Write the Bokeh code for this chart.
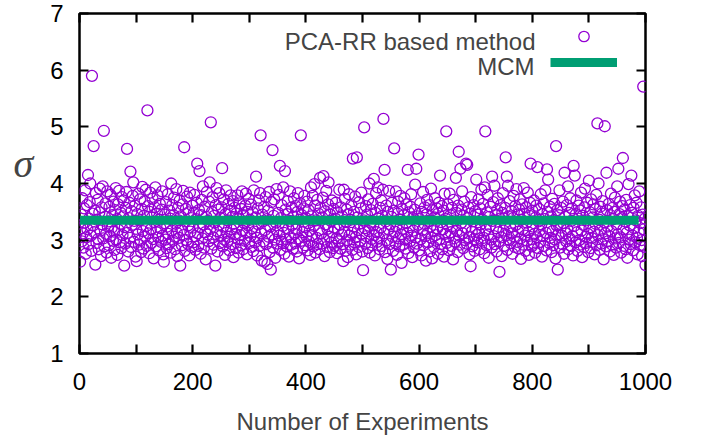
from bokeh.plotting import figure
from bokeh.models import Range1d, LinearAxis, FixedTicker, Label, Legend, LegendItem
from bokeh.embed import file_html
from bokeh.resources import INLINE

# ---------------- data ----------------
experiments = list(range(1, 1001))
sigma = [
    2.62, 3.21, 3.45, 2.98, 3.74, 3.12, 2.87, 3.56, 3.31, 3.88, 2.76, 3.05, 3.62, 3.19, 4.15, 2.93, 3.38, 3.67, 4.00, 3.08, 2.81, 5.90, 3.47, 3.26, 4.66,
    3.14, 3.52, 2.57, 3.83, 2.95, 3.36, 3.71, 3.02, 2.84, 3.49, 3.91, 3.17, 2.72, 3.58, 3.28, 3.95, 3.03, 4.93, 2.89, 3.41, 3.65, 3.11, 2.78, 3.86, 3.24,
    3.33, 2.91, 3.59, 3.07, 3.80, 2.69, 3.22, 3.44, 2.99, 3.68, 3.15, 2.83, 3.53, 3.92, 3.01, 3.37, 2.74, 3.63, 3.18, 3.87, 2.96, 3.29, 3.48, 2.86, 3.76,
    3.09, 3.42, 3.70, 2.55, 3.23, 2.94, 3.57, 3.85, 4.61, 3.13, 2.80, 3.39, 3.66, 3.04, 4.21, 2.88, 3.51, 3.27, 3.78, 4.02, 2.97, 3.34, 3.61, 2.71, 3.20,
    2.63, 3.46, 3.10, 3.82, 2.92, 3.35, 3.72, 3.00, 2.79, 3.55, 3.94, 3.16, 2.85, 3.43, 3.69, 3.06, 3.89, 3.25, 2.90, 5.29, 3.60, 3.12, 2.77, 3.50, 3.84,
    3.19, 2.95, 3.40, 3.73, 3.02, 2.68, 3.32, 3.58, 3.93, 2.89, 3.14, 3.47, 3.79, 3.05, 2.82, 3.36, 3.64, 3.21, 2.97, 3.54, 3.86, 3.08, 2.75, 2.62, 3.30,
    3.45, 3.01, 3.67, 2.86, 3.24, 3.81, 3.11, 2.93, 3.52, 3.38, 2.78, 4.00, 3.17, 3.62, 2.99, 3.44, 3.75, 3.06, 2.84, 3.29, 3.90, 3.13, 2.72, 3.57, 3.35,
    3.04, 3.70, 2.55, 3.42, 3.18, 2.91, 3.63, 3.87, 3.09, 4.64, 2.81, 3.33, 3.55, 3.00, 3.77, 2.94, 3.26, 3.49, 2.73, 3.84, 3.15, 3.39, 2.88, 3.61, 3.22,
    2.96, 3.48, 3.80, 3.07, 2.83, 3.37, 3.66, 4.35, 3.12, 2.90, 3.53, 4.22, 3.23, 2.76, 3.44, 3.71, 3.03, 3.95, 3.28, 2.87, 3.59, 3.14, 2.66, 3.41, 3.85,
    3.10, 3.34, 2.98, 3.68, 4.02, 3.20, 5.08, 2.85, 3.50, 3.76, 3.05, 2.92, 3.43, 3.31, 2.55, 3.62, 3.92, 3.16, 2.80, 3.54, 3.27, 3.83, 2.95, 3.39, 3.08,
    3.58, 4.27, 2.89, 3.24, 3.72, 3.01, 2.74, 3.46, 3.88, 3.13, 2.97, 3.35, 3.64, 3.06, 2.82, 3.52, 3.79, 3.19, 2.93, 3.41, 3.69, 2.70, 3.29, 3.57, 3.11,
    2.86, 3.47, 3.23, 3.79, 3.02, 2.78, 3.38, 3.65, 3.09, 2.91, 3.55, 3.86, 3.17, 2.84, 3.44, 3.30, 2.99, 3.61, 3.82, 3.14, 2.75, 3.50, 3.26, 3.73, 2.95,
    3.36, 3.07, 3.63, 2.88, 3.21, 3.49, 2.81, 3.88, 3.15, 2.96, 3.40, 4.12, 3.04, 2.73, 3.56, 3.28, 3.70, 2.90, 3.83, 4.85, 3.12, 2.64, 3.45, 3.33, 2.98,
    3.59, 2.62, 3.18, 3.76, 2.93, 3.37, 2.58, 3.52, 3.06, 3.85, 2.79, 3.24, 2.48, 3.67, 3.10, 4.59, 2.87, 3.43, 3.72, 3.01, 2.69, 3.31, 3.90, 3.16, 2.94,
    3.48, 3.80, 3.08, 4.31, 2.83, 3.39, 3.62, 2.97, 3.25, 3.93, 3.13, 2.76, 4.22, 3.54, 3.02, 2.89, 3.46, 3.69, 3.20, 2.71, 3.34, 3.86, 3.05, 2.92, 3.58,
    3.27, 2.85, 3.41, 3.74, 3.11, 2.95, 3.60, 3.19, 2.80, 3.50, 3.83, 3.03, 2.68, 3.36, 3.65, 4.85, 2.99, 3.44, 3.14, 2.87, 3.56, 3.78, 3.23, 2.91, 3.39,
    3.07, 3.68, 2.82, 3.30, 3.53, 2.97, 3.17, 2.74, 3.93, 3.42, 3.09, 3.78, 2.89, 3.25, 3.99, 3.61, 2.78, 3.35, 3.04, 3.71, 2.93, 3.47, 3.18, 2.84, 4.10,
    3.57, 3.12, 2.94, 3.40, 3.75, 4.13, 3.01, 2.72, 3.51, 3.28, 3.87, 2.88, 3.20, 3.63, 4.02, 3.06, 2.79, 3.45, 3.34, 2.96, 3.70, 3.14, 2.86, 3.55, 3.22,
    2.90, 3.38, 3.66, 3.03, 2.77, 3.49, 3.19, 2.98, 3.89, 3.27, 2.85, 3.58, 3.10, 3.42, 2.93, 2.63, 3.89, 3.15, 3.73, 2.81, 3.32, 3.54, 3.00, 2.70, 3.46,
    3.81, 3.08, 2.92, 3.36, 3.62, 3.13, 2.83, 4.44, 3.24, 3.50, 2.96, 3.77, 3.05, 2.75, 4.46, 3.40, 3.18, 2.88, 3.67, 3.29, 2.99, 3.56, 3.84, 3.11, 2.80,
    2.47, 3.35, 4.99, 3.21, 2.94, 3.60, 3.07, 3.45, 2.86, 3.72, 3.16, 4.00, 2.78, 3.31, 3.53, 3.02, 2.91, 3.64, 3.26, 4.08, 3.09, 2.73, 3.48, 3.83, 3.14,
    2.97, 3.93, 3.38, 3.04, 2.84, 3.57, 3.22, 3.70, 2.90, 3.43, 3.89, 5.14, 3.12, 4.24, 2.79, 3.33, 3.61, 3.00, 2.67, 3.50, 3.19, 3.87, 2.93, 3.28, 2.48,
    3.41, 3.66, 3.06, 2.81, 3.52, 4.62, 3.15, 2.95, 3.86, 3.25, 2.74, 3.47, 3.68, 3.03, 2.89, 3.36, 3.78, 3.10, 2.60, 3.55, 3.20, 2.92, 3.44, 3.74, 3.01,
    2.85, 3.30, 3.63, 3.13, 4.24, 2.77, 3.49, 3.23, 2.98, 3.59, 3.81, 3.08, 2.70, 3.39, 3.17, 2.87, 3.54, 3.98, 3.05, 4.26, 2.94, 3.42, 3.27, 4.51, 2.82,
    3.37, 3.65, 3.02, 2.73, 3.50, 3.18, 3.85, 2.91, 3.29, 3.58, 3.07, 2.64, 3.45, 3.71, 3.12, 2.96, 3.34, 3.62, 2.80, 3.24, 3.91, 3.04, 2.68, 3.53, 3.16,
    2.88, 3.40, 3.74, 3.09, 2.99, 3.56, 3.21, 2.76, 3.47, 3.66, 3.01, 4.14, 2.93, 3.32, 3.60, 2.84, 3.19, 3.52, 2.71, 3.82, 3.11, 3.38, 4.92, 2.95, 3.27,
    3.63, 3.06, 2.82, 3.82, 3.44, 3.14, 2.90, 3.57, 3.25, 2.66, 3.71, 3.03, 3.35, 2.97, 4.10, 3.48, 3.17, 2.79, 3.61, 4.56, 3.08, 2.92, 4.26, 3.30, 3.54,
    3.86, 3.12, 2.86, 3.43, 3.68, 3.00, 3.22, 4.35, 2.94, 4.33, 3.39, 3.58, 3.05, 2.75, 3.47, 2.54, 3.76, 3.15, 2.89, 3.33, 3.62, 3.02, 2.81, 3.51, 3.20,
    4.07, 3.09, 2.96, 3.45, 3.72, 3.13, 2.84, 3.56, 3.28, 3.89, 2.99, 3.36, 3.64, 3.04, 2.77, 3.93, 4.92, 3.18, 2.91, 3.49, 3.80, 3.10, 2.69, 3.41, 3.25,
    3.59, 3.01, 2.87, 4.12, 3.34, 3.67, 3.07, 3.96, 2.93, 3.44, 3.21, 2.80, 3.53, 3.74, 3.14, 2.98, 2.44, 3.38, 3.62, 3.05, 2.72, 3.48, 3.83, 3.17, 2.90,
    3.30, 3.57, 4.46, 3.09, 4.12, 2.83, 3.96, 3.42, 3.00, 3.69, 3.23, 2.95, 3.51, 3.12, 2.76, 3.39, 3.78, 3.06, 2.88, 3.60, 3.27, 3.90, 2.97, 3.45, 3.15,
    2.85, 3.54, 3.72, 3.03, 2.67, 3.36, 3.63, 3.19, 2.92, 3.92, 3.47, 3.08, 2.81, 3.58, 3.31, 2.99, 3.84, 3.14, 2.74, 3.43, 3.66, 4.35, 3.02, 2.89, 3.52,
    3.24, 2.94, 3.70, 3.11, 2.78, 3.40, 3.61, 3.05, 4.29, 2.86, 3.33, 3.55, 3.17, 2.97, 3.81, 3.28, 2.71, 3.46, 3.07, 3.65, 2.90, 3.37, 3.88, 3.13, 2.82,
    4.25, 3.50, 4.07, 3.20, 2.95, 3.59, 3.04, 3.42, 2.79, 3.73, 3.16, 2.91, 3.35, 3.64, 3.01, 2.68, 4.66, 3.26, 3.53, 2.48, 3.10, 3.44, 3.88, 2.87, 3.22,
    3.57, 3.08, 2.93, 3.68, 3.30, 2.76, 4.19, 3.41, 3.12, 2.98, 3.62, 3.19, 3.95, 2.84, 3.48, 3.03, 3.74, 2.90, 3.34, 3.56, 3.07, 2.73, 4.31, 3.25, 4.14,
    2.96, 3.46, 3.70, 3.14, 2.81, 3.38, 3.61, 3.00, 2.92, 3.52, 3.84, 3.17, 2.70, 3.43, 3.27, 2.88, 3.58, 3.91, 3.06, 2.95, 3.35, 3.66, 3.11, 2.79, 4.05,
    3.21, 3.49, 2.86, 3.72, 3.04, 2.97, 3.40, 3.63, 3.15, 2.75, 3.55, 3.29, 3.80, 2.91, 5.06, 3.09, 4.00, 3.36, 2.83, 3.59, 3.18, 2.94, 3.47, 3.69, 3.02,
    2.66, 3.32, 5.01, 3.12, 2.89, 4.19, 3.53, 3.24, 2.98, 3.64, 3.07, 2.80, 3.44, 3.82, 3.16, 2.92, 3.57, 3.37, 2.74, 3.50, 3.75, 3.03, 2.87, 3.28, 3.95,
    3.10, 4.26, 2.95, 3.46, 3.68, 3.05, 2.78, 3.39, 3.60, 4.45, 3.19, 2.90, 3.54, 3.33, 2.84, 3.71, 3.13, 2.69, 3.42, 3.99, 3.01, 3.26, 3.62, 2.93, 4.14,
    3.48, 3.08, 2.82, 3.57, 3.21, 3.79, 2.96, 3.35, 3.66, 3.04, 2.75, 3.43, 3.14, 3.86, 2.91, 3.30, 3.58, 3.00, 2.72, 3.45, 5.71, 3.19, 2.88, 3.38, 2.56,
]
mcm_x = [1, 988]
mcm_y = [3.35, 3.35]

x_ticks = [0, 100, 200, 300, 400, 500, 600, 700, 800, 900, 1000]
x_tick_labels = {0: "0", 100: "", 200: "200", 300: "", 400: "400", 500: "",
                 600: "600", 700: "", 800: "800", 900: "", 1000: "1000"}
y_ticks = [1, 2, 3, 4, 5, 6, 7]

series_names = ["PCA-RR based method", "MCM"]
x_title = "Number of Experiments"
y_title = "σ"

PURPLE = "#9400D3"
GREEN = "#009E73"
FONT = "Liberation Sans"

p = figure(width=707, height=440, x_range=Range1d(0, 1000), y_range=Range1d(1, 7),
           output_backend="svg", toolbar_location=None,
           min_border_left=79, min_border_right=62, min_border_top=13, min_border_bottom=87)
p.xgrid.visible = False
p.ygrid.visible = False
p.outline_line_color = "black"
p.outline_line_width = 2.5
p.background_fill_color = "white"
p.border_fill_color = "white"

pts = p.scatter(experiments, sigma, marker="circle", size=11, fill_color=None,
                line_color=PURPLE, line_width=1.3)
mcm = p.line(mcm_x, mcm_y, line_color=GREEN, line_width=9)


def style_axis(ax, ticks, overrides=None, labels=True):
    ax.ticker = FixedTicker(ticks=ticks)
    ax.axis_line_color = None
    ax.major_tick_in = 9
    ax.major_tick_out = 0
    ax.major_tick_line_width = 2.2
    ax.major_tick_line_color = "black"
    ax.minor_tick_line_color = None
    if overrides:
        ax.major_label_overrides = overrides
    if labels:
        ax.major_label_text_font = FONT
        ax.major_label_text_font_size = "24px"
        ax.major_label_text_color = "black"
    else:
        ax.major_label_text_font_size = "1px"
        ax.major_label_text_color = None
        ax.major_label_standoff = 0


style_axis(p.xaxis[0], x_ticks, x_tick_labels)
p.xaxis[0].major_label_standoff = 19
p.xaxis[0].axis_label = x_title
p.xaxis[0].axis_label_text_font = FONT
p.xaxis[0].axis_label_text_font_size = "24px"
p.xaxis[0].axis_label_text_font_style = "normal"
p.xaxis[0].axis_label_standoff = 15

style_axis(p.yaxis[0], y_ticks)
p.yaxis[0].major_label_standoff = 16
p.yaxis[0].axis_label = y_title + "\n"
p.yaxis[0].axis_label_orientation = "horizontal"
p.yaxis[0].axis_label_text_font = "Liberation Serif"
p.yaxis[0].axis_label_text_font_style = "italic"
p.yaxis[0].axis_label_text_font_size = "40px"
p.yaxis[0].axis_label_text_line_height = 0.9
p.yaxis[0].axis_label_standoff = 14

top = LinearAxis()
style_axis(top, x_ticks, labels=False)
p.add_layout(top, "above")
right = LinearAxis()
style_axis(right, y_ticks, labels=False)
p.add_layout(right, "right")

# legend: texts right-aligned, samples to the right (gnuplot style)
p.add_layout(Label(x=456, y=312, x_units="screen", y_units="screen", text=series_names[0],
                   text_font=FONT, text_font_size="24px", text_align="right",
                   text_baseline="alphabetic"))
p.add_layout(Label(x=455, y=287, x_units="screen", y_units="screen", text=series_names[1],
                   text_font=FONT, text_font_size="24px", text_align="right",
                   text_baseline="alphabetic"))
leg = Legend(items=[LegendItem(label=" ", renderers=[pts]),
                    LegendItem(label=" ", renderers=[mcm])],
             location=(471, 278), glyph_width=67, glyph_height=26, spacing=0,
             padding=0, margin=0, label_standoff=0, label_width=0,
             label_text_font_size="1px", label_text_color=None,
             background_fill_alpha=0, border_line_alpha=0)
p.add_layout(leg)

open("out.html", "w").write(file_html(p, INLINE))
